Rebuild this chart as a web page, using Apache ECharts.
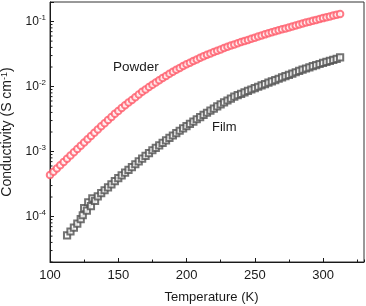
<!DOCTYPE html>
<html>
<head>
<meta charset="utf-8">
<style>
  html, body { margin: 0; padding: 0; background: #fff; }
  #chart { width: 366px; height: 306px; }
</style>
<script src="https://cdn.jsdelivr.net/npm/echarts@6/dist/echarts.min.js"></script>
</head>
<body>
<div id="chart"></div>
<script>
// Powder: temperature (K) and log10 of conductivity (S cm^-1)
const powderT = [100,102.5,105,107.5,110,112.5,115,117.5,120,122.5,125,127.5,130,132.5,135,137.5,140,142.5,145,147.5,
  150,152.5,155,157.5,160,162.5,165,167.5,170,172.5,175,177.5,180,182.5,185,187.5,190,192.5,195,197.5,
  200,202.5,205,207.5,210,212.5,215,217.5,220,222.5,225,227.5,230,232.5,235,237.5,240,242.5,245,247.5,
  250,252.5,255,257.5,260,262.5,265,267.5,270,272.5,275,277.5,280,282.5,285,287.5,290,292.5,295,297.5,
  300,302.5,305,307.5,310,312.5];
const powderLog = [-3.36,-3.31,-3.26,-3.21,-3.16,-3.11,-3.06,-3.01,-2.96,-2.91,-2.86,-2.81,-2.76,-2.71,-2.66,-2.612,-2.565,-2.515,-2.467,-2.42,
  -2.375,-2.33,-2.287,-2.245,-2.205,-2.165,-2.122,-2.08,-2.044,-2.008,-1.973,-1.938,-1.904,-1.87,-1.837,-1.804,-1.772,-1.742,-1.713,-1.685,
  -1.658,-1.632,-1.607,-1.582,-1.558,-1.535,-1.512,-1.49,-1.469,-1.448,-1.428,-1.408,-1.389,-1.37,-1.351,-1.333,-1.316,-1.299,-1.282,-1.265,
  -1.248,-1.231,-1.214,-1.197,-1.18,-1.165,-1.15,-1.135,-1.12,-1.105,-1.09,-1.075,-1.06,-1.045,-1.03,-1.016,-1.002,-0.988,-0.974,-0.96,
  -0.947,-0.934,-0.921,-0.908,-0.895,-0.882];

// Film
const filmT = [112.5,115,117.5,120,122.5,124,125,127,128,130,131,133,135,137.5,140,142.5,145,147.5,
  150,152.5,155,157.5,160,162.5,165,167.5,170,172.5,175,177.5,180,182.5,185,187.5,190,192.5,195,197.5,
  200,202.5,205,207.5,210,212.5,215,217.5,220,222.5,225,227.5,230,232.5,235,237.5,240,242.5,245,247.5,
  250,252.5,255,257.5,260,262.5,265,267.5,270,272.5,275,277.5,280,282.5,285,287.5,290,292.5,295,297.5,
  300,302.5,305,307.5,310,312.5];
const filmLog = [-4.29,-4.23,-4.17,-4.11,-4.04,-3.98,-3.87,-3.91,-3.78,-3.84,-3.72,-3.76,-3.69,-3.64,-3.595,-3.55,-3.505,-3.455,
  -3.41,-3.367,-3.324,-3.281,-3.238,-3.195,-3.152,-3.109,-3.066,-3.023,-2.98,-2.942,-2.904,-2.866,-2.828,-2.79,-2.753,-2.716,-2.68,-2.644,
  -2.608,-2.573,-2.538,-2.503,-2.469,-2.436,-2.403,-2.37,-2.338,-2.306,-2.275,-2.244,-2.214,-2.184,-2.155,-2.133,-2.111,-2.089,-2.067,-2.045,
  -2.024,-2.003,-1.982,-1.961,-1.94,-1.92,-1.9,-1.88,-1.86,-1.84,-1.82,-1.8,-1.78,-1.76,-1.74,-1.722,-1.704,-1.687,-1.67,-1.653,
  -1.637,-1.621,-1.605,-1.589,-1.573,-1.55];

// axes
const xMin = 100, xMax = 330, xStep = 50, xMinorStep = 25;
const yMin = 2e-5, yMax = 0.2;
const yMinorTicks = [2e-5,3e-5,4e-5,5e-5,6e-5,7e-5,8e-5,9e-5,
  2e-4,3e-4,4e-4,5e-4,6e-4,7e-4,8e-4,9e-4,
  2e-3,3e-3,4e-3,5e-3,6e-3,7e-3,8e-3,9e-3,
  2e-2,3e-2,4e-2,5e-2,6e-2,7e-2,8e-2,9e-2];

const FONT = '"Liberation Sans", Arial, sans-serif';
const INK = '#1a1a1a';

function pairs(ts, logs) {
  return ts.map((t, i) => [t, Math.pow(10, logs[i])]);
}

const chart = echarts.init(document.getElementById('chart'), null, { renderer: 'canvas' });

chart.setOption({
  animation: false,
  backgroundColor: '#fff',
  grid: {
    left: 50, right: 2, top: 2, bottom: 44,
    outerBoundsMode: 'none', containLabel: false,
    show: true, borderColor: '#333', borderWidth: 1
  },
  xAxis: [{
    type: 'value', min: xMin, max: xMax, interval: xStep,
    name: 'Temperature (K)', nameLocation: 'middle', nameGap: 29,
    nameTextStyle: { fontFamily: FONT, fontSize: 13, color: INK, padding: [0, 0, 0, 9] },
    axisLine: { lineStyle: { color: INK, width: 1 } },
    axisTick: { inside: true, length: 4, lineStyle: { color: INK } },
    axisLabel: { fontFamily: FONT, fontSize: 13, color: INK, margin: 7, showMaxLabel: false },
    splitLine: { show: false }
  }, {
    // second bottom axis only for the minor ticks
    type: 'value', position: 'bottom', min: xMin, max: xMax, interval: xMinorStep,
    axisLine: { show: false },
    axisTick: { inside: true, length: 2.5, lineStyle: { color: INK } },
    axisLabel: { show: false },
    splitLine: { show: false }
  }],
  yAxis: {
    type: 'log', logBase: 10, min: yMin, max: yMax,
    name: 'Conductivity (S cm{s|-1})', nameLocation: 'middle', nameGap: 33,
    nameTextStyle: {
      fontFamily: FONT, fontSize: 14, color: INK,
      rich: { s: { fontFamily: FONT, fontSize: 9, color: INK, padding: [0, 0, 6, 0] } }
    },
    axisLine: { lineStyle: { color: INK, width: 1 } },
    axisTick: { inside: true, length: 4, lineStyle: { color: INK } },
    axisLabel: {
      margin: 4,
      formatter: v => {
        const e = Math.log10(v), r = Math.round(e);
        if (Math.abs(e - r) > 1e-6) return '';
        return '{b|10}{s|' + r + '}';
      },
      rich: {
        b: { fontFamily: FONT, fontSize: 12, color: INK },
        s: { fontFamily: FONT, fontSize: 8, color: INK, padding: [0, 0, 7, 0] }
      }
    },
    splitLine: { show: false }
  },
  graphic: [
    { type: 'text', left: 113, top: 60, style: { text: 'Powder', font: '13.5px ' + FONT, fill: INK } },
    { type: 'text', left: 212, top: 121, style: { text: 'Film', font: '13px ' + FONT, fill: INK } }
  ],
  series: [{
    // log-axis minor ticks
    type: 'custom', silent: true, clip: false,
    data: yMinorTicks.map(v => [xMin, v]),
    renderItem: (params, api) => {
      const p = api.coord([api.value(0), api.value(1)]);
      return { type: 'line', shape: { x1: p[0], y1: p[1], x2: p[0] + 2.5, y2: p[1] }, style: { stroke: INK, lineWidth: 1 } };
    }
  }, {
    name: 'Powder', type: 'scatter',
    data: pairs(powderT, powderLog),
    symbol: 'emptyCircle', symbolSize: 6.5,
    itemStyle: { color: '#ff5a69', borderWidth: 0.8 }
  }, {
    name: 'Film', type: 'scatter',
    data: pairs(filmT, filmLog),
    symbol: 'emptyRect', symbolSize: 6.2,
    itemStyle: { color: '#505050', borderWidth: 0.8 }
  }]
});
</script>
</body>
</html>
